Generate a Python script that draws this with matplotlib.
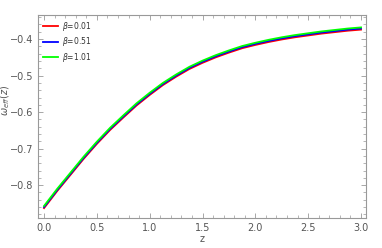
import matplotlib
matplotlib.use("Agg")
import matplotlib.pyplot as plt
from matplotlib.ticker import MultipleLocator, FormatStrFormatter, FuncFormatter

z = [0.0, 0.125, 0.25, 0.375, 0.5, 0.625, 0.75, 0.875, 1.0, 1.125, 1.25, 1.375, 1.5,
     1.625, 1.75, 1.875, 2.0, 2.125, 2.25, 2.375, 2.5, 2.625, 2.75, 2.875, 3.0]
w_b001 = [-0.863, -0.816, -0.772, -0.728, -0.687, -0.649, -0.615, -0.582, -0.553, -0.526,
          -0.503, -0.482, -0.465, -0.450, -0.437, -0.425, -0.416, -0.408, -0.401, -0.395,
          -0.390, -0.385, -0.381, -0.377, -0.374]
w_b051 = [-0.860, -0.813, -0.769, -0.725, -0.684, -0.646, -0.612, -0.579, -0.550, -0.523,
          -0.500, -0.479, -0.462, -0.447, -0.434, -0.422, -0.413, -0.405, -0.398, -0.392,
          -0.387, -0.382, -0.378, -0.374, -0.371]
w_b101 = [-0.857, -0.810, -0.766, -0.722, -0.681, -0.643, -0.609, -0.576, -0.547, -0.520,
          -0.497, -0.476, -0.459, -0.444, -0.431, -0.419, -0.410, -0.402, -0.395, -0.389,
          -0.384, -0.379, -0.375, -0.371, -0.368]
labels = [r"$\beta$=0.01", r"$\beta$=0.51", r"$\beta$=1.01"]
colors = ["#ff0000", "#0000ff", "#00ff00"]

fig = plt.figure(figsize=(3.82, 2.48), dpi=100)
ax = fig.add_axes([38/382, 30/248, (366-38)/382, (218-15)/248])

for w, lab, c in zip([w_b001, w_b051, w_b101], labels, colors):
    ax.plot(z, w, color=c, lw=1.3, label=lab)

ax.set_xlim(-0.057, 3.047)
ax.set_ylim(-0.890, -0.334)
ax.xaxis.set_major_locator(MultipleLocator(0.5))
ax.xaxis.set_minor_locator(MultipleLocator(0.1))
ax.yaxis.set_major_locator(MultipleLocator(0.1))
ax.yaxis.set_minor_locator(MultipleLocator(0.02))
ax.xaxis.set_major_formatter(FormatStrFormatter("%.1f"))
ax.yaxis.set_major_formatter(FuncFormatter(lambda v, p: ("\u2212%.1f" % abs(v)) if v < 0 else "%.1f" % v))

fc = "#999999"
for s in ax.spines.values():
    s.set_color(fc)
    s.set_linewidth(0.8)
ax.tick_params(which="both", direction="in", top=True, right=True, colors=fc,
               labelcolor="#555555", labelsize=7)
ax.tick_params(which="major", length=3.5, width=0.6)
ax.tick_params(which="minor", length=2, width=0.5)

ax.set_xlabel("z", fontsize=7, color="#555555", labelpad=1)
ax.set_ylabel(r"$\omega_{eff}(z)$", fontsize=7, color="#555555")
ax.yaxis.set_label_coords(-0.078, 0.58)

leg = ax.legend(loc="upper left", fontsize=5.5, frameon=False, handlelength=2.0,
                handletextpad=0.5, labelspacing=0.35, borderaxespad=0.2)
for t in leg.get_texts():
    t.set_color("#333333")

fig.savefig("out.png", dpi=100)
